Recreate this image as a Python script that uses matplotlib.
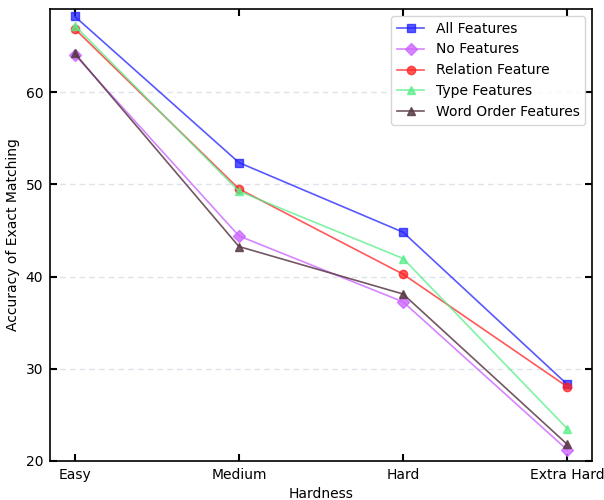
import matplotlib
matplotlib.use('Agg')
import matplotlib.pyplot as plt

# data
hardness = ['Easy', 'Medium', 'Hard', 'Extra Hard']
all_features = [68.2, 52.35, 44.8, 28.3]
no_features = [64.05, 44.4, 37.25, 21.2]
relation_feature = [66.85, 49.5, 40.25, 28.05]
type_features = [67.2, 49.25, 41.95, 23.5]
word_order_features = [64.2, 43.25, 38.1, 21.8]

x = list(range(len(hardness)))

fig = plt.figure(figsize=(6.04, 5.0), dpi=100)
ax = fig.add_axes([0.083, 0.078, 0.897, 0.904])

ax.plot(x, all_features, marker='s', color='#2020ff', alpha=0.75, ms=6, lw=1.2, label='All Features')
ax.plot(x, no_features, marker='D', color='#cc66ff', alpha=0.8, ms=6, lw=1.2, label='No Features')
ax.plot(x, relation_feature, marker='o', color='#ff2020', alpha=0.75, ms=6, lw=1.2, label='Relation Feature')
ax.plot(x, type_features, marker='^', color='#55ee88', alpha=0.75, ms=6, lw=1.2, label='Type Features')
ax.plot(x, word_order_features, marker='^', color='#5a3a48', alpha=0.85, ms=6, lw=1.2, label='Word Order Features')

ax.set_xlim(-0.15, 3.15)
ax.set_ylim(20, 69)
ax.set_xticks(x)
ax.set_xticklabels(hardness)
ax.set_yticks([20, 30, 40, 50, 60])
ax.yaxis.grid(True, linestyle=(0, (4, 3)), color='#dde3e8', lw=1)
ax.set_axisbelow(True)

for sp in ax.spines.values():
    sp.set_linewidth(1.2)

ax.tick_params(direction='in', top=True, right=True, length=5, width=1.5, pad=5)

ax.set_xlabel('Hardness')
ax.set_ylabel('Accuracy of Exact Matching')
ax.legend(loc='upper right')

fig.savefig('out.png', dpi=100)
